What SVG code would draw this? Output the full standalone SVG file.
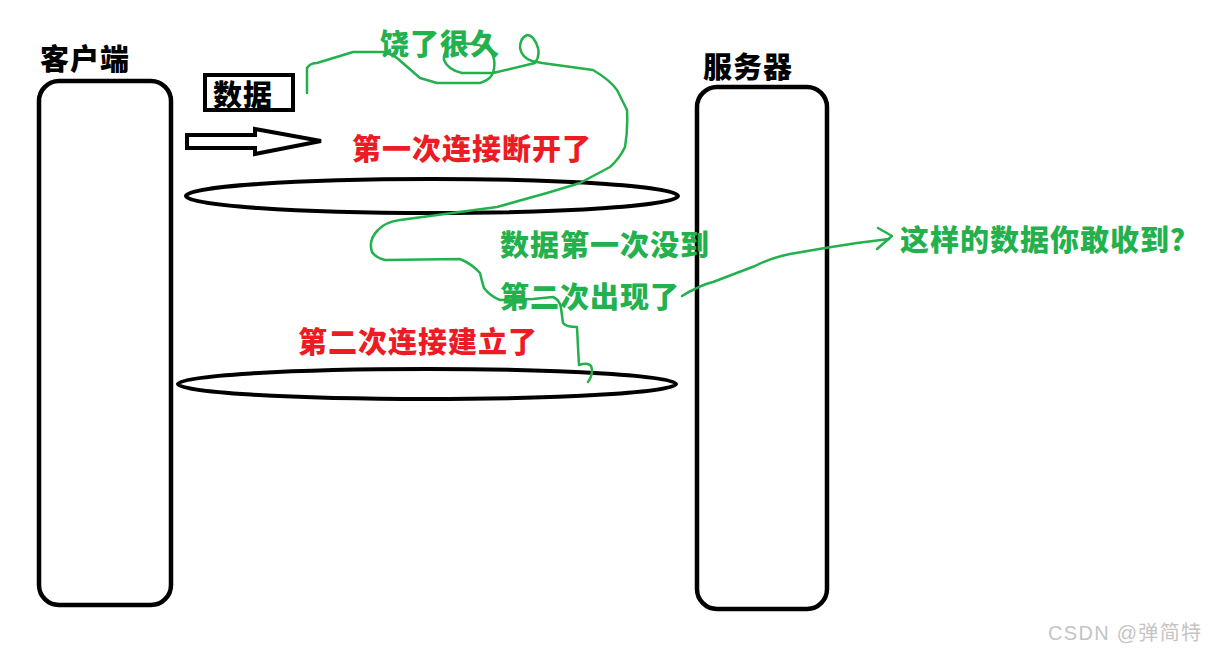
<svg xmlns="http://www.w3.org/2000/svg" width="1210" height="652" viewBox="0 0 1210 652">
<style>
.box{fill:none;stroke:#000;stroke-width:4.5}
.lbl{font-family:"Noto Sans CJK SC","Noto Sans",sans-serif;font-weight:900;font-size:29px;letter-spacing:1px}
.blk{fill:#000}
.red{fill:#ed1c24}
.grn{fill:#22b14c}
.gl{fill:none;stroke:#22b14c;stroke-width:2.5;stroke-linecap:round;stroke-linejoin:round}
.ell{fill:none;stroke:#000;stroke-width:4}
</style>
<rect width="1210" height="652" fill="#fff"/>
<g id="client">
<rect class="box" x="39" y="81" width="132" height="524" rx="20"/>
<text class="lbl blk" x="40" y="70">客户端</text>
</g>
<g id="server">
<rect class="box" x="697" y="87" width="130" height="522" rx="20"/>
<text class="lbl blk" x="703" y="78">服务器</text>
</g>
<g id="data">
<rect x="205" y="75" width="88" height="35" fill="none" stroke="#000" stroke-width="4"/>
<text class="lbl blk" x="213" y="106">数据</text>
</g>
<g id="conn1">
<ellipse class="ell" cx="432" cy="196" rx="246" ry="17"/>
<text class="lbl red" x="352" y="160">第一次连接断开了</text>
</g>
<g id="conn2">
<ellipse class="ell" cx="427" cy="384" rx="249" ry="15"/>
<text class="lbl red" x="298" y="353">第二次连接建立了</text>
</g>
<g id="notes">
<text class="lbl grn" x="380" y="55">饶了很久</text>
<text class="lbl grn" x="500" y="256">数据第一次没到</text>
<text class="lbl grn" x="500" y="308">第二次出现了</text>
<text class="lbl grn" x="900" y="251">这样的数据你敢收到？</text>
</g>
<g id="connectors">
<polygon points="187,135 255,135 255,129 321,141 255,154 255,148 187,148" fill="#fff" stroke="#000" stroke-width="4" stroke-linejoin="miter"/>
<path class="gl" d="M307,93 L307,68 Q310,63 317,63 L353,52 L383,52 Q392,54 397,58 L420,78 L437,83 L480,83 Q490,80 493,73 Q497,60 490,50 Q478,42 458,44 Q443,48 444,60 Q448,70 462,73 L493,73 L535,63 Q540,56 538,48 Q534,35 527,35 Q520,38 520,48 Q522,58 532,61 L542,63 L593,70 Q610,80 617,90 L627,110 Q628,130 625,147 Q620,158 610,167 L580,183 L547,193 L497,207 L400,220 Q385,222 378,230 Q368,240 372,252 Q376,258 385,260 L460,259 Q472,264 480,273 Q482,282 484,288 Q490,296 500,300 L533,299 L553,297 Q560,300 561,308 L563,323 Q566,327 577,327 L578,347 L579,365 Q588,362 591,366 Q594,373 588,382"/>
<path class="gl" d="M682,296 Q688,292 695,289 Q702,285 713,282 L755,266 Q770,258 790,254 L825,248 L857,243 L889,239"/>
<path class="gl" d="M878,228 L892,236 L877,249"/>
</g>
<text x="1048" y="640" font-family="'Liberation Sans','Noto Sans CJK SC',sans-serif" font-size="20" letter-spacing="1.3" fill="#c4c4c4">CSDN @弹简特</text>
</svg>
